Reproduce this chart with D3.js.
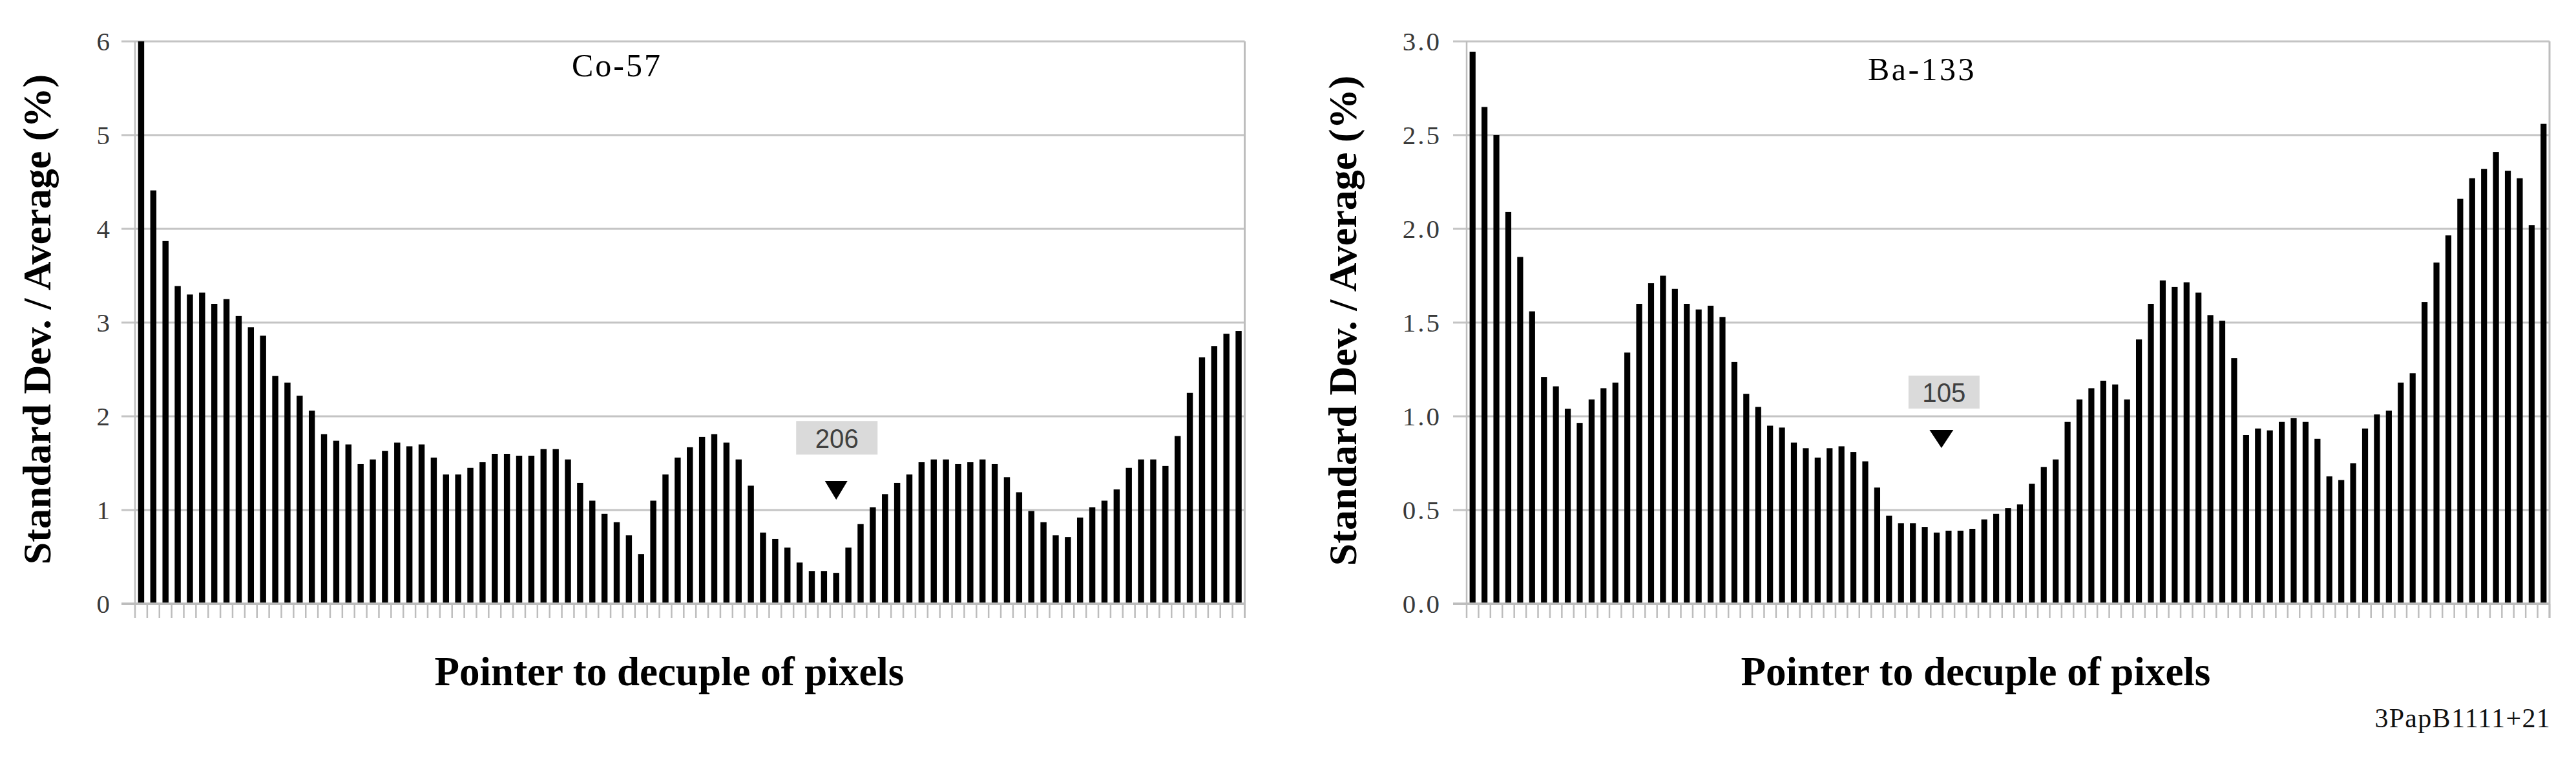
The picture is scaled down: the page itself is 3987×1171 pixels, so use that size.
<!DOCTYPE html>
<html>
<head>
<meta charset="utf-8">
<script src="https://cdn.jsdelivr.net/npm/d3@7/dist/d3.min.js"></script>
<style>
  html, body { margin: 0; padding: 0; background: #fff; }
  svg { display: block; }
</style>
</head>
<body>
<svg id="chart" width="3987" height="1171"></svg>
<script>
// ---------------- DATA ----------------
const decuples = d3.range(1, 92); // 91 pointer positions (categories)

const co57Values = [6.00, 4.41, 3.87, 3.39, 3.30, 3.32, 3.20, 3.25, 3.07, 2.95,
  2.86, 2.43, 2.36, 2.22, 2.06, 1.81, 1.74, 1.70, 1.49, 1.54,
  1.63, 1.72, 1.68, 1.70, 1.56, 1.38, 1.38, 1.45, 1.51, 1.60,
  1.60, 1.58, 1.58, 1.65, 1.65, 1.54, 1.29, 1.10, 0.96, 0.87,
  0.73, 0.53, 1.10, 1.38, 1.56, 1.67, 1.78, 1.81, 1.72, 1.54,
  1.26, 0.76, 0.69, 0.60, 0.44, 0.35, 0.35, 0.33, 0.60, 0.85,
  1.03, 1.17, 1.29, 1.38, 1.51, 1.54, 1.54, 1.49, 1.51, 1.54,
  1.49, 1.35, 1.19, 0.99, 0.87, 0.73, 0.71, 0.92, 1.03, 1.10,
  1.22, 1.45, 1.54, 1.54, 1.47, 1.79, 2.25, 2.63, 2.75, 2.88, 2.91];

const ba133Values = [2.945, 2.65, 2.50, 2.09, 1.85, 1.56, 1.21, 1.16, 1.04, 0.965,
  1.09, 1.15, 1.18, 1.34, 1.60, 1.71, 1.75, 1.68, 1.60, 1.57,
  1.59, 1.53, 1.29, 1.12, 1.05, 0.95, 0.94, 0.86, 0.83, 0.78,
  0.83, 0.84, 0.81, 0.76, 0.62, 0.47, 0.43, 0.43, 0.41, 0.38,
  0.39, 0.39, 0.40, 0.45, 0.48, 0.51, 0.53, 0.64, 0.73, 0.77,
  0.97, 1.09, 1.15, 1.19, 1.17, 1.09, 1.41, 1.60, 1.725, 1.69,
  1.715, 1.66, 1.54, 1.51, 1.31, 0.90, 0.935, 0.925, 0.97, 0.99,
  0.97, 0.88, 0.68, 0.66, 0.75, 0.935, 1.01, 1.03, 1.18, 1.23,
  1.61, 1.82, 1.965, 2.16, 2.27, 2.32, 2.41, 2.31, 2.27, 2.02, 2.56];

const co57Ticks = [0, 1, 2, 3, 4, 5, 6];
const ba133Ticks = [0, 0.5, 1.0, 1.5, 2.0, 2.5, 3.0];

const chartTitles = ["Co-57", "Ba-133"];
const pointerLabels = ["206", "105"];
const pointerCats = [58, 40.4];          // category where the pointer sits
const yTitle = "Standard Dev. / Average (%)";
const xTitle = "Pointer to decuple of pixels";
const footnote = "3PapB1111+21";

// ---------------- LAYOUT ----------------
const svg = d3.select("#chart");
svg.append("rect").attr("width", 3987).attr("height", 1171).attr("fill", "#fff");

const SERIF = "'Liberation Serif','Times New Roman',Times,serif";
const SANS = "'Liberation Sans',Arial,sans-serif";

const panels = [
  { values: co57Values, ticks: co57Ticks, fmt: d3.format("d"), max: 6,
    x0: 209, x1: 1926.5, yTitleX: 78, yTitleY: 494,
    title: chartTitles[0], titleX: 955, titleY: 118, titleLS: 3,
    xTitleX: 1036, ptLabel: pointerLabels[0], ptCat: pointerCats[0],
    boxTop: 1.95, boxW: 126, boxH: 52, triTop: 1.31, triH: 29, triW: 35, boxDx: 1 },
  { values: ba133Values, ticks: ba133Ticks, fmt: d3.format(".1f"), max: 3,
    x0: 2270, x1: 3946, yTitleX: 2099, yTitleY: 496,
    title: chartTitles[1], titleX: 2975, titleY: 124, titleLS: 3.5,
    xTitleX: 3058, ptLabel: pointerLabels[1], ptCat: pointerCats[1],
    boxTop: 1.217, boxW: 110, boxH: 51, triTop: 0.928, triH: 28, triW: 37, boxDx: 4 }
];

const yTop = 64, yBot = 934;
const GRID = "#c4c4c4";

panels.forEach(p => {
  const g = svg.append("g");
  const y = d3.scaleLinear().domain([0, p.max]).range([yBot, yTop]);
  const x = d3.scaleBand().domain(decuples).range([p.x0, p.x1])
    .paddingInner(0.5).paddingOuter(0.25);
  const step = x.step();
  const catX = c => p.x0 + (c - 0.5) * step;   // centre of category c (1-based, may be fractional)

  // gridlines (extend left as ticks)
  g.selectAll("line.grid").data(p.ticks.filter(t => t > 0)).enter().append("line")
    .attr("x1", p.x0 - 21).attr("x2", p.x1)
    .attr("y1", d => y(d)).attr("y2", d => y(d))
    .attr("stroke", GRID).attr("stroke-width", 3);

  // tick labels
  g.selectAll("text.yt").data(p.ticks).enter().append("text")
    .attr("x", p.x0 - 39).attr("y", d => y(d))
    .attr("dy", "0.35em")
    .attr("text-anchor", "end")
    .attr("font-family", SERIF).attr("font-size", 41)
    .attr("letter-spacing", p.max === 3 ? 3 : 0)
    .attr("fill", "#3a3a3a")
    .text(d => p.fmt(d));

  // bars
  g.selectAll("rect.bar").data(p.values).enter().append("rect")
    .attr("x", (d, i) => x(decuples[i]))
    .attr("width", x.bandwidth())
    .attr("y", d => y(Math.min(d, p.max)))
    .attr("height", d => yBot - y(Math.min(d, p.max)))
    .attr("fill", "#000");

  // category tick marks at boundaries
  g.selectAll("line.xt").data(d3.range(0, decuples.length + 1)).enter().append("line")
    .attr("x1", i => p.x0 + i * step).attr("x2", i => p.x0 + i * step)
    .attr("y1", yBot).attr("y2", yBot + 22)
    .attr("stroke", "#bdbdbd").attr("stroke-width", 2.5);

  // plot frame: zero line, left, right
  g.append("line").attr("x1", p.x0 - 21).attr("x2", p.x1)
    .attr("y1", yBot).attr("y2", yBot)
    .attr("stroke", "#bdbdbd").attr("stroke-width", 4);
  g.append("line").attr("x1", p.x0).attr("x2", p.x0)
    .attr("y1", yTop).attr("y2", yBot)
    .attr("stroke", "#bdbdbd").attr("stroke-width", 2.5);
  g.append("line").attr("x1", p.x1).attr("x2", p.x1)
    .attr("y1", yTop).attr("y2", yBot + 22)
    .attr("stroke", "#bdbdbd").attr("stroke-width", 3);

  // chart title
  g.append("text").attr("x", p.titleX).attr("y", p.titleY)
    .attr("text-anchor", "middle")
    .attr("font-family", SERIF).attr("font-size", 50)
    .attr("letter-spacing", p.titleLS)
    .attr("fill", "#000").text(p.title);

  // y axis title
  g.append("text")
    .attr("transform", `translate(${p.yTitleX},${p.yTitleY}) rotate(-90)`)
    .attr("text-anchor", "middle")
    .attr("font-family", SERIF).attr("font-size", 62).attr("font-weight", "bold")
    .attr("fill", "#000").text(yTitle);

  // x axis title
  g.append("text").attr("x", p.xTitleX).attr("y", 1060)
    .attr("text-anchor", "middle")
    .attr("font-family", SERIF).attr("font-size", 63).attr("font-weight", "bold")
    .attr("fill", "#000").text(xTitle);

  // pointer annotation
  const px = catX(p.ptCat);
  const bx = px + p.boxDx;
  const by = y(p.boxTop);
  g.append("rect").attr("x", bx - p.boxW / 2).attr("y", by)
    .attr("width", p.boxW).attr("height", p.boxH)
    .attr("fill", "#dadada");
  g.append("text").attr("x", bx).attr("y", by + p.boxH - 10)
    .attr("text-anchor", "middle")
    .attr("font-family", SANS).attr("font-size", 42)
    .attr("textLength", 67).attr("lengthAdjust", "spacingAndGlyphs")
    .attr("fill", "#404040").text(p.ptLabel);
  const ty = y(p.triTop);
  g.append("path")
    .attr("d", d3.line()([[px - p.triW / 2, ty], [px + p.triW / 2, ty], [px, ty + p.triH]]) + "Z")
    .attr("fill", "#000");
});

// footnote
svg.append("text").attr("x", 3948).attr("y", 1125)
  .attr("text-anchor", "end")
  .attr("font-family", SERIF).attr("font-size", 42)
  .attr("letter-spacing", 1.3)
  .attr("fill", "#111").text(footnote);
</script>
</body>
</html>
